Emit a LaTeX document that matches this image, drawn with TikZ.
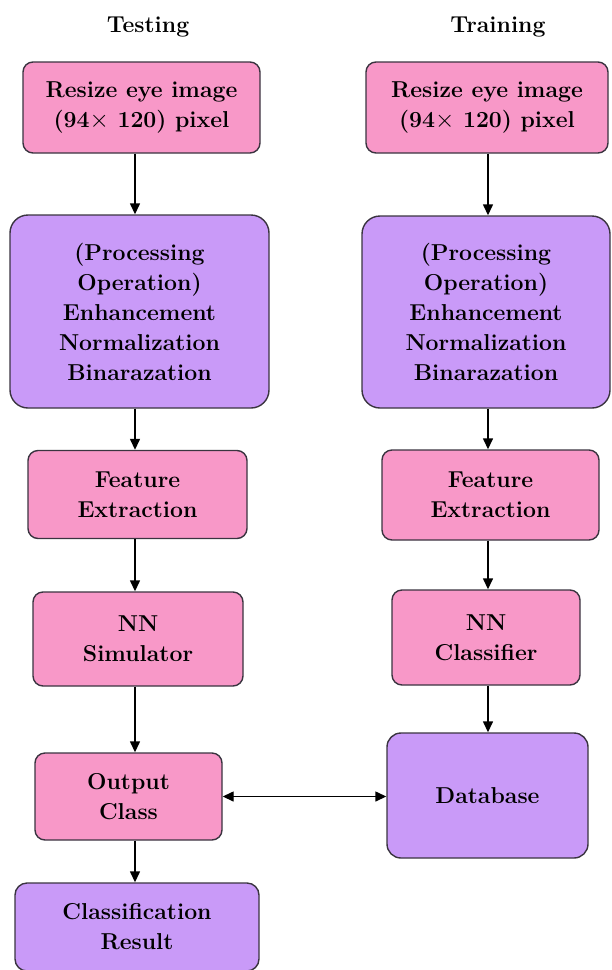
\documentclass[tikz,border=0pt]{standalone}
\usepackage{xcolor}
\usetikzlibrary{arrows.meta,positioning}
\definecolor{boxpink}{HTML}{F898C8}
\definecolor{boxviolet}{HTML}{C99AF8}
\definecolor{boxline}{HTML}{3A3440}

\begin{document}
\begin{tikzpicture}[
    x=1pt, y=-1pt,
    hdr/.style={font=\bfseries\fontsize{23}{30}\selectfont, text=black},
    pinkbox/.style={draw=boxline, fill=boxpink, line width=1.4pt, rounded corners=10pt, align=center, inner sep=0pt, font=\bfseries\fontsize{23}{30}\selectfont, text=black},
    violetbox/.style={pinkbox, fill=boxviolet, rounded corners=18pt},
    arr/.style={line width=1.4pt, -{Triangle[length=11pt,width=10pt]}},
    biarr/.style={line width=1.4pt, {Triangle[length=11pt,width=10pt]}-{Triangle[length=11pt,width=10pt]}}
]
\useasboundingbox (0,0) rectangle (612,970);

\node[hdr] (testing) at (148,27) {Testing};
\node[hdr] (training) at (498,27) {Training};

\node[pinkbox, minimum width=237pt, minimum height=91pt] (resizeL) at (141.5,107.5) {Resize eye image\\(94$\times$ 120) pixel};
\node[violetbox, minimum width=259pt, minimum height=193pt] (procL) at (139.5,311.5) {(Processing\\Operation)\\Enhancement\\Normalization\\Binarazation};
\node[pinkbox, minimum width=219pt, minimum height=88pt] (featL) at (137.5,494.5) {Feature\\Extraction};
\node[pinkbox, minimum width=210pt, minimum height=94pt] (nnsim) at (138,639) {NN\\Simulator};
\node[pinkbox, minimum width=187pt, minimum height=87pt] (outcls) at (128.5,796.5) {Output\\Class};
\node[violetbox, rounded corners=12pt, minimum width=244pt, minimum height=88pt] (result) at (137,927) {Classification\\Result};

\node[pinkbox, minimum width=242pt, minimum height=91pt] (resizeR) at (487,107.5) {Resize eye image\\(94$\times$ 120) pixel};
\node[violetbox, minimum width=248pt, minimum height=192pt] (procR) at (486,312) {(Processing\\Operation)\\Enhancement\\Normalization\\Binarazation};
\node[pinkbox, minimum width=217pt, minimum height=90pt] (featR) at (490.5,495) {Feature\\Extraction};
\node[pinkbox, minimum width=188pt, minimum height=95pt] (nncls) at (486,637.5) {NN\\Classifier};
\node[violetbox, rounded corners=14pt, minimum width=201pt, minimum height=125pt] (database) at (487.5,795.5) {Database};

\coordinate (colL) at (135,0);
\coordinate (colR) at (488,0);

\draw[arr] (colL |- resizeL.south) -- (colL |- procL.north);
\draw[arr] (colL |- procL.south) -- (colL |- featL.north);
\draw[arr] (colL |- featL.south) -- (colL |- nnsim.north);
\draw[arr] (colL |- nnsim.south) -- (colL |- outcls.north);
\draw[arr] (colL |- outcls.south) -- (colL |- result.north);

\draw[arr] (colR |- resizeR.south) -- (colR |- procR.north);
\draw[arr] (colR |- procR.south) -- (colR |- featR.north);
\draw[arr] (colR |- featR.south) -- (colR |- nncls.north);
\draw[arr] (colR |- nncls.south) -- (colR |- database.north);

\draw[biarr] (outcls.east) -- (outcls.east -| database.west);
\end{tikzpicture}
\end{document}
